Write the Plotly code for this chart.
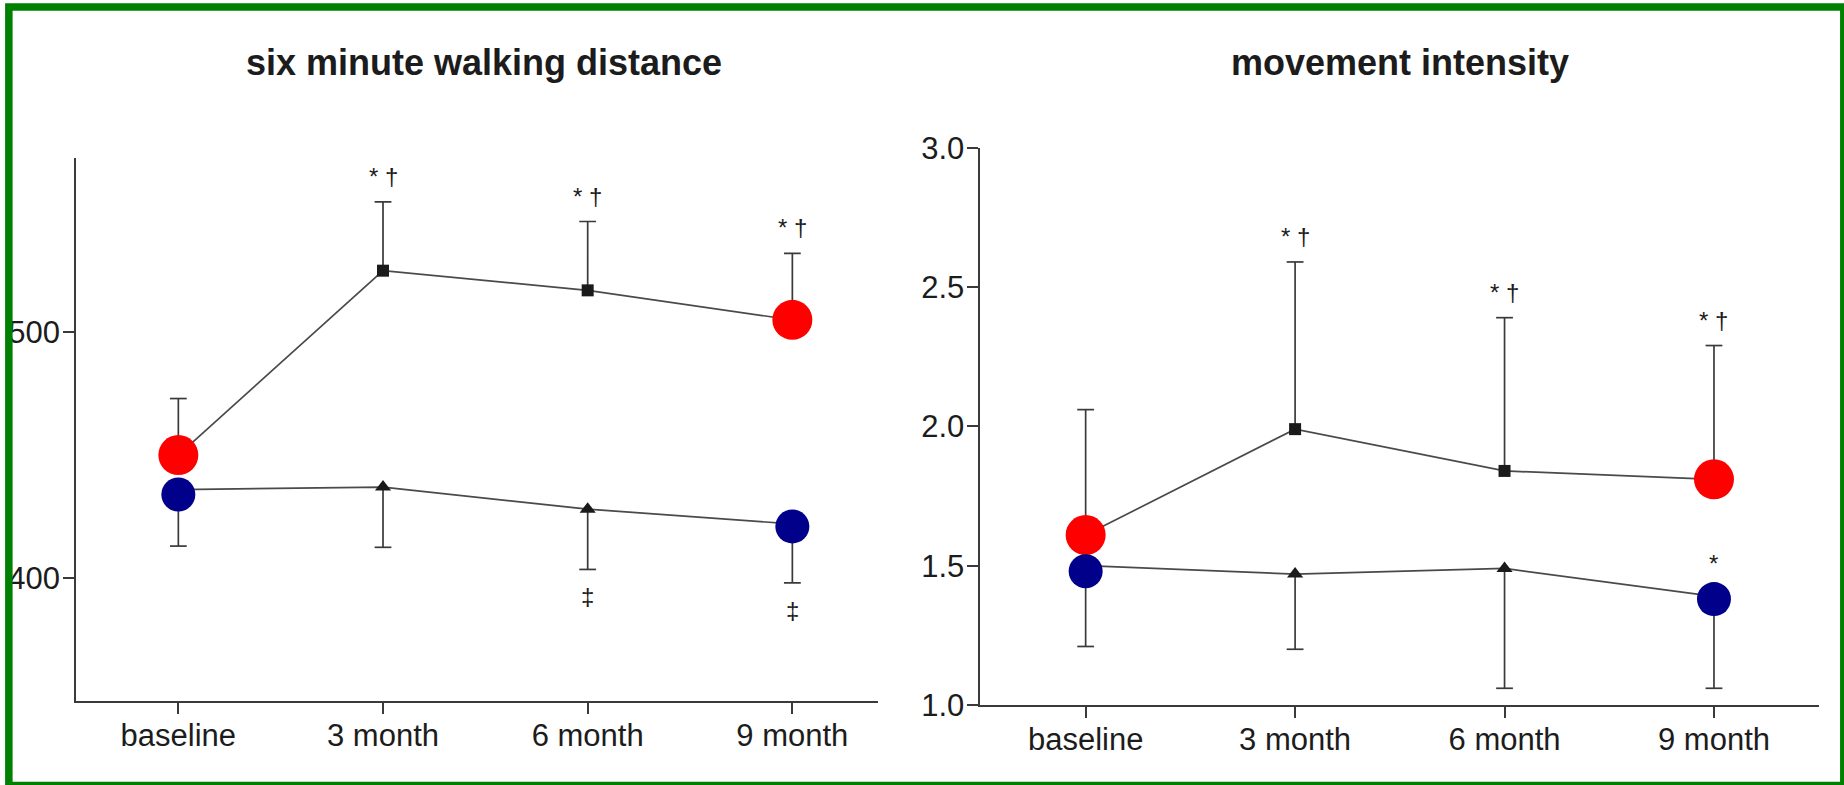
import plotly.graph_objects as go

categories = ["baseline", "3 month", "6 month", "9 month"]

# six minute walking distance (m): mean and one-sided SD per visit
walk_training_mean = [450, 525, 517, 505]
walk_training_sd = [23, 28, 28, 27]
walk_control_mean = [436, 437, 428, 422]
walk_control_sd = [23, 24.5, 24.5, 24]
walk_red_points = [450, 505]
walk_blue_points = [434, 421]
walk_training_marks = ["", "* †", "* †", "* †"]
walk_control_marks = ["", "", "‡", "‡"]
walk_ticks = [400, 500]

# movement intensity
intensity_training_mean = [1.61, 1.99, 1.84, 1.81]
intensity_training_sd = [0.45, 0.60, 0.55, 0.48]
intensity_control_mean = [1.50, 1.47, 1.49, 1.39]
intensity_control_sd = [0.29, 0.27, 0.43, 0.33]
intensity_red_points = [1.61, 1.81]
intensity_blue_points = [1.48, 1.38]
intensity_training_marks = ["", "* †", "* †", "* †"]
intensity_control_marks = ["", "", "", "*"]
intensity_ticks = [1.0, 1.5, 2.0, 2.5, 3.0]

highlight_categories = ["baseline", "9 month"]

FONT = "Liberation Sans, Arial, sans-serif"
INK = "#1c1c1c"
AXIS = "#3a3a3a"
W, H = 1844, 785

fig = go.Figure()


def whiskers(mean, sd, sign):
    xs, ys = [], []
    for c, m, s in zip(categories, mean, sd):
        xs += [c, c, None]
        ys += [m, m + sign * s, None]
    return xs, ys


def add_panel(xa, ya, up_mean, up_sd, lo_mean, lo_sd, red_pts, blue_pts):
    for mean, sd, sign in ((up_mean, up_sd, 1), (lo_mean, lo_sd, -1)):
        wx, wy = whiskers(mean, sd, sign)
        fig.add_trace(go.Scatter(x=wx, y=wy, mode="lines", xaxis=xa, yaxis=ya,
                                 line=dict(color=AXIS, width=1.7),
                                 hoverinfo="skip"))
        fig.add_trace(go.Scatter(x=categories,
                                 y=[m + sign * s for m, s in zip(mean, sd)],
                                 mode="markers", xaxis=xa, yaxis=ya,
                                 marker=dict(symbol="line-ew", size=12,
                                             line=dict(color=AXIS, width=1.7)),
                                 hoverinfo="skip"))
    fig.add_trace(go.Scatter(x=categories, y=up_mean, mode="lines+markers",
                             xaxis=xa, yaxis=ya,
                             line=dict(color="#4a4a4a", width=1.7),
                             marker=dict(symbol="square", size=12, color="#1a1a1a")))
    fig.add_trace(go.Scatter(x=categories, y=lo_mean, mode="lines+markers",
                             xaxis=xa, yaxis=ya,
                             line=dict(color="#4a4a4a", width=1.7),
                             marker=dict(symbol="triangle-up", size=14, color="#1a1a1a")))
    fig.add_trace(go.Scatter(x=highlight_categories, y=red_pts, mode="markers",
                             xaxis=xa, yaxis=ya,
                             marker=dict(size=40, color="#ff0000")))
    fig.add_trace(go.Scatter(x=highlight_categories, y=blue_pts, mode="markers",
                             xaxis=xa, yaxis=ya,
                             marker=dict(size=34, color="#00008b")))


add_panel("x", "y", walk_training_mean, walk_training_sd,
          walk_control_mean, walk_control_sd, walk_red_points, walk_blue_points)
add_panel("x2", "y2", intensity_training_mean, intensity_training_sd,
          intensity_control_mean, intensity_control_sd,
          intensity_red_points, intensity_blue_points)

annotations = []
mark_font = dict(family=FONT, size=24, color=INK)

# significance marks above the training-group error bars
for xref, yref, mean, sd, marks in (
        ("x", "y", walk_training_mean, walk_training_sd, walk_training_marks),
        ("x2", "y2", intensity_training_mean, intensity_training_sd,
         intensity_training_marks)):
    for c, m, s, t in zip(categories, mean, sd, marks):
        if t:
            annotations.append(dict(x=c, y=m + s, xref=xref, yref=yref, text=t,
                                    showarrow=False, yanchor="bottom", yshift=10,
                                    font=mark_font))

# marks below the control-group error bars (walking distance)
for c, m, s, t in zip(categories, walk_control_mean, walk_control_sd, walk_control_marks):
    if t:
        annotations.append(dict(x=c, y=m - s, xref="x", yref="y", text=t,
                                showarrow=False, yanchor="top", yshift=-12,
                                font=mark_font))

# mark above the highlighted control point (movement intensity)
for c, t in zip(categories, intensity_control_marks):
    if t:
        v = intensity_blue_points[highlight_categories.index(c)]
        annotations.append(dict(x=c, y=v, xref="x2", yref="y2", text=t,
                                showarrow=False, yanchor="bottom", yshift=20,
                                font=mark_font))

title_font = dict(family=FONT, size=36, color=INK)
annotations.append(dict(x=484 / W, y=1 - 63 / H, xref="paper", yref="paper",
                        text="<b>six minute walking distance</b>", showarrow=False,
                        xanchor="center", yanchor="middle", font=title_font))
annotations.append(dict(x=1399.5 / W, y=1 - 63 / H, xref="paper", yref="paper",
                        text="<b>movement intensity</b>", showarrow=False,
                        xanchor="center", yanchor="middle", font=title_font))

tick_font = dict(family=FONT, size=31, color=INK)
axis_common = dict(showline=True, linecolor=AXIS, linewidth=1.7, ticks="outside",
                   ticklen=11, tickwidth=1.7, tickcolor=AXIS, tickfont=tick_font,
                   showgrid=False, zeroline=False, fixedrange=True,
                   automargin=False)

fig.update_layout(
    width=W, height=H, autosize=False,
    margin=dict(l=0, r=0, t=0, b=0, pad=0, autoexpand=False),
    paper_bgcolor="white", plot_bgcolor="white",
    showlegend=False,
    xaxis=dict(domain=[76 / W, 877.7 / W], type="category",
               categoryorder="array", categoryarray=categories,
               range=[-0.5, 3.417], anchor="y", ticklabelstandoff=-5,
               **axis_common),
    yaxis=dict(domain=[1 - 701 / H, 1 - 158.3 / H], range=[350, 570.7],
               tickvals=walk_ticks, anchor="x", ticklabelstandoff=-3,
               **axis_common),
    xaxis2=dict(domain=[980.3 / W, 1818.7 / W], type="category",
                categoryorder="array", categoryarray=categories,
                range=[-0.503, 3.5], anchor="y2", ticklabelstandoff=-5,
                **axis_common),
    yaxis2=dict(domain=[1 - 705 / H, 1 - 147.7 / H], range=[1, 3],
                tickvals=intensity_ticks, tickformat=".1f", anchor="x2",
                ticklabelstandoff=-3, **axis_common),
    annotations=annotations,
    shapes=[dict(type="rect", xref="paper", yref="paper",
                 x0=8.85 / W, x1=1843.8 / W, y0=1 - 785.5 / H, y1=1 - 7 / H,
                 line=dict(color="#008000", width=7.5),
                 fillcolor="rgba(0,0,0,0)", layer="above")],
)

fig.write_html("out.html", config={"responsive": False, "displayModeBar": False})
